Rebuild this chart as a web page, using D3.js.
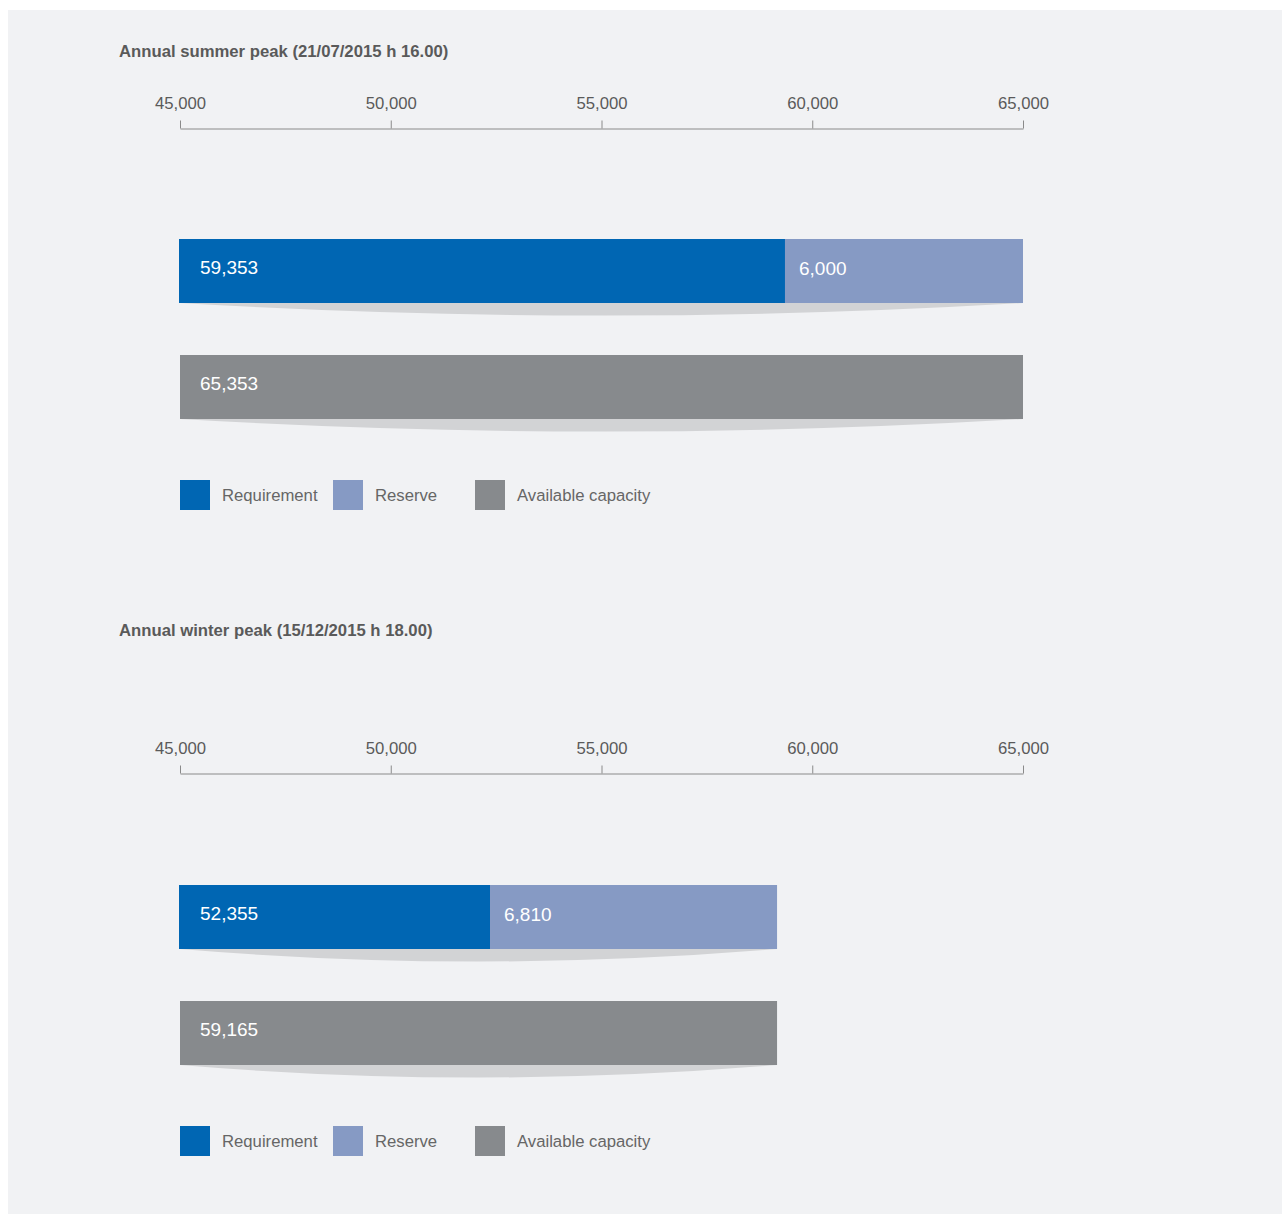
<!DOCTYPE html>
<html>
<head>
<meta charset="utf-8">
<script src="https://cdn.jsdelivr.net/npm/d3@7"></script>
<style>
  body { margin: 0; background: #fff; font-family: "Liberation Sans", Arial, sans-serif; }
  svg text { font-family: "Liberation Sans", Arial, sans-serif; }
</style>
</head>
<body>
<div id="chart"></div>
<script>
// data
const panelTitles = ["Annual summer peak (21/07/2015 h 16.00)", "Annual winter peak (15/12/2015 h 18.00)"];
const requirement = [59353, 52355];
const reserve = [6000, 6810];
const available = [65353, 59165];
const tickValues = [45000, 50000, 55000, 60000, 65000];
const legendLabels = ["Requirement", "Reserve", "Available capacity"];
const colors = ["#0066b3", "#869ac4", "#878a8d"];

const width = 1282, height = 1214;
const svg = d3.select("#chart").append("svg").attr("width", width).attr("height", height);

svg.append("rect").attr("x", 8).attr("y", 10).attr("width", width - 8).attr("height", height - 10).attr("fill", "#f1f2f4");

const x = d3.scaleLinear().domain([45000, 65000]).range([180, 1023]).clamp(true);
const fmt = d3.format(",");

// vertical layout of each panel
const titleY = [57, 636];
const axisY = [128.5, 773.5];
const barTop = [239, 885];
const barH = 64;

function shadow(g, x0, x1, y) {
  const mid = (x0 + x1) / 2;
  g.append("path")
    .attr("d", `M${x0},${y} L${x1},${y} Q${mid},${y + 25} ${x0},${y} Z`)
    .attr("fill", "#d2d3d5");
}

panelTitles.forEach((title, i) => {
  const g = svg.append("g");

  g.append("text").attr("x", 119).attr("y", titleY[i])
    .attr("font-size", 16.7).attr("font-weight", "bold").attr("fill", "#5a5a5a")
    .text(title);

  const axis = d3.axisTop(x).tickValues(tickValues).tickFormat(fmt).tickSize(8).tickSizeOuter(0).tickPadding(12);
  const ag = g.append("g").attr("transform", `translate(0,${axisY[i]})`).call(axis);
  ag.select(".domain").attr("stroke", "#8a8a8a");
  ag.selectAll(".tick line").attr("stroke", "#8a8a8a");
  ag.selectAll(".tick text").attr("font-size", 16.7).attr("fill", "#5a5a5a");

  const y1 = barTop[i];
  const y2 = y1 + 116;

  // requirement + reserve stacked bar
  shadow(g, x(45000), x(requirement[i] + reserve[i]), y1 + barH);
  g.append("rect").attr("x", x(45000) - 1).attr("y", y1).attr("height", barH)
    .attr("width", x(requirement[i]) - x(45000) + 1).attr("fill", colors[0]);
  g.append("rect").attr("x", x(requirement[i])).attr("y", y1).attr("height", barH)
    .attr("width", x(requirement[i] + reserve[i]) - x(requirement[i])).attr("fill", colors[1]);
  g.append("text").attr("x", x(45000) + 20).attr("y", y1 + 35).attr("font-size", 19).attr("fill", "#fff")
    .text(fmt(requirement[i]));
  g.append("text").attr("x", x(requirement[i]) + 14).attr("y", y1 + 36).attr("font-size", 19).attr("fill", "#fff")
    .text(fmt(reserve[i]));

  // available capacity bar
  shadow(g, x(45000), x(available[i]), y2 + barH);
  g.append("rect").attr("x", x(45000)).attr("y", y2).attr("height", barH)
    .attr("width", x(available[i]) - x(45000)).attr("fill", colors[2]);
  g.append("text").attr("x", x(45000) + 20).attr("y", y2 + 35).attr("font-size", 19).attr("fill", "#fff")
    .text(fmt(available[i]));

  // legend
  const legX = [180, 333, 475];
  const ly = y2 + barH + 61;
  legendLabels.forEach((lab, j) => {
    g.append("rect").attr("x", legX[j]).attr("y", ly).attr("width", 30).attr("height", 30).attr("fill", colors[j]);
    g.append("text").attr("x", legX[j] + 42).attr("y", ly + 21).attr("font-size", 16.7).attr("fill", "#666")
      .text(lab);
  });
});
</script>
</body>
</html>
